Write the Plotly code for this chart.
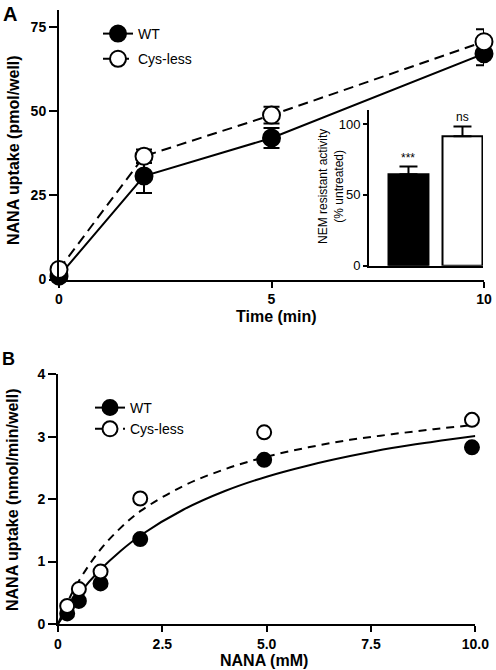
import plotly.graph_objects as go

# ---------------- Panel A data ----------------
time_min = [0, 2, 5, 10]
wt_uptake = [1.0, 30.7, 42.0, 67.0]
wt_uptake_err = [0.5, 5.0, 3.0, 3.4]
cys_uptake = [3.0, 36.6, 48.8, 70.6]
cys_uptake_err = [0.5, 2.0, 2.5, 3.7]

# Inset (NEM resistant activity)
inset_groups = ["WT", "Cys-less"]
inset_values = [64.6, 91.5]
inset_err = [5.4, 6.9]
inset_sig = ["***", "ns"]

# ---------------- Panel B data ----------------
nana_mM = [0.22, 0.5, 1.02, 1.97, 4.94, 9.92]
wt_rate = [0.17, 0.37, 0.65, 1.36, 2.63, 2.83]
cys_rate = [0.29, 0.56, 0.84, 2.01, 3.07, 3.27]

# fitted curves
fit_x = [0, 0.25, 0.5, 1, 1.5, 2, 3, 4, 5, 6, 7, 8, 9, 10]
wt_fit = [0, 0.25, 0.48, 0.86, 1.17, 1.43, 1.83, 2.13, 2.36, 2.54, 2.69, 2.82, 2.92, 3.01]
cys_fit = [0, 0.38, 0.69, 1.18, 1.54, 1.82, 2.21, 2.48, 2.68, 2.83, 2.95, 3.04, 3.12, 3.19]

W, H = 496, 670
FONT = "Liberation Sans, Arial, sans-serif"


def px(x):
    return x / W


def py(y):
    return (H - y) / H


fig = go.Figure()

# Panel A
fig.add_trace(go.Scatter(
    x=time_min, y=wt_uptake, name="WT", mode="lines+markers",
    line=dict(color="black", width=2),
    marker=dict(size=17, color="black", line=dict(color="black", width=2)),
    error_y=dict(type="data", array=wt_uptake_err, color="black", thickness=2, width=8),
    cliponaxis=False, xaxis="x", yaxis="y", legend="legend", legendgroup="wtA",
))
fig.add_trace(go.Scatter(
    x=time_min, y=cys_uptake, name="Cys-less", mode="lines+markers",
    line=dict(color="black", width=2, dash="10px,6px"),
    marker=dict(size=17, color="white", line=dict(color="black", width=2)),
    error_y=dict(type="data", array=cys_uptake_err, color="black", thickness=2, width=8),
    cliponaxis=False, xaxis="x", yaxis="y", legend="legend", legendgroup="cysA",
))

# Inset bars
fig.add_trace(go.Bar(
    x=inset_groups, y=inset_values, width=0.74,
    marker=dict(color=["black", "white"], line=dict(color="black", width=2)),
    error_y=dict(type="data", symmetric=False, array=inset_err, arrayminus=[0, 0],
                 color="black", thickness=2, width=9),
    showlegend=False, xaxis="x3", yaxis="y3",
))

# Panel B
fig.add_trace(go.Scatter(
    x=fit_x, y=wt_fit, mode="lines", line=dict(color="black", width=2, shape="spline"),
    showlegend=False, hoverinfo="skip", xaxis="x2", yaxis="y2",
))
fig.add_trace(go.Scatter(
    x=fit_x, y=cys_fit, mode="lines", line=dict(color="black", width=2, dash="8px,6px", shape="spline"),
    showlegend=False, hoverinfo="skip", xaxis="x2", yaxis="y2",
))
fig.add_trace(go.Scatter(
    x=nana_mM, y=wt_rate, name="WT", mode="markers",
    marker=dict(size=14, color="black", line=dict(color="black", width=2)),
    cliponaxis=False, xaxis="x2", yaxis="y2", legend="legend2", showlegend=False,
))
fig.add_trace(go.Scatter(
    x=nana_mM, y=cys_rate, name="Cys-less", mode="markers",
    marker=dict(size=14, color="white", line=dict(color="black", width=2)),
    cliponaxis=False, xaxis="x2", yaxis="y2", legend="legend2", showlegend=False,
))
# legend entries for panel B (line + marker style)
fig.add_trace(go.Scatter(
    x=[None], y=[None], name="WT", mode="lines+markers",
    line=dict(color="black", width=2),
    marker=dict(size=15, color="black", line=dict(color="black", width=2)),
    xaxis="x2", yaxis="y2", legend="legend2",
))
fig.add_trace(go.Scatter(
    x=[None], y=[None], name="Cys-less", mode="lines+markers",
    line=dict(color="black", width=2, dash="8px,6px"),
    marker=dict(size=15, color="white", line=dict(color="black", width=2)),
    xaxis="x2", yaxis="y2", legend="legend2",
))

axis_common = dict(
    showline=True, linecolor="black", linewidth=2, showgrid=False, zeroline=False,
    ticks="outside", tickcolor="black", tickwidth=2, automargin=False,
    tickfont=dict(family=FONT, size=14, color="black", weight="bold"),
)

fig.update_layout(
    width=W, height=H,
    margin=dict(l=0, r=0, t=0, b=0, pad=0, autoexpand=False),
    paper_bgcolor="white", plot_bgcolor="white",
    font=dict(family=FONT, color="black"),
    xaxis=dict(axis_common, domain=[px(59), px(484)], range=[0, 10],
               tickvals=[0, 5, 10], ticklen=6, anchor="y"),
    yaxis=dict(axis_common, domain=[py(279.5), py(10)], range=[0, 80],
               tickvals=[0, 25, 50, 75], ticklen=8, anchor="x"),
    xaxis2=dict(axis_common, domain=[px(58), px(475.3)], range=[0, 10],
                tickvals=[0, 2.5, 5, 7.5, 10], ticktext=["0", "2.5", "5.0", "7.5", "10.0"],
                ticklen=6, anchor="y2"),
    yaxis2=dict(axis_common, domain=[py(624), py(374.3)], range=[0, 4],
                tickvals=[0, 1, 2, 3, 4], ticklen=8, anchor="x2"),
    xaxis3=dict(showline=True, linecolor="black", linewidth=2, showgrid=False, zeroline=False,
                type="category", range=[-0.731, 1.38], autorange=False, automargin=False,
                showticklabels=False, ticks="",
                domain=[px(369), px(483)], anchor="y3"),
    yaxis3=dict(showline=True, linecolor="black", linewidth=2, showgrid=False, zeroline=False,
                ticks="outside", tickcolor="black", tickwidth=2, ticklen=4, automargin=False,
                tickfont=dict(family=FONT, size=13, color="black"),
                range=[0, 110], tickvals=[0, 50, 100],
                domain=[py(265.7), py(110)], anchor="x3"),
    legend=dict(x=px(98), y=py(18), xanchor="left", yanchor="top",
                font=dict(family=FONT, size=14, color="black"),
                bgcolor="rgba(0,0,0,0)", borderwidth=0, tracegroupgap=4),
    legend2=dict(x=px(90), y=py(392), xanchor="left", yanchor="top",
                 font=dict(family=FONT, size=14, color="black"),
                 bgcolor="rgba(0,0,0,0)", borderwidth=0, tracegroupgap=0),
    showlegend=True,
)

annotations = [
    dict(text="<b>A</b>", x=px(1), y=py(1), xanchor="left", yanchor="top", font=dict(size=20)),
    dict(text="<b>B</b>", x=px(0), y=py(347), xanchor="left", yanchor="top", font=dict(size=18)),
    dict(text="<b>Time (min)</b>", x=px(276), y=py(316), xanchor="center", yanchor="middle", font=dict(size=16)),
    dict(text="<b>NANA (mM)</b>", x=px(264), y=py(660), xanchor="center", yanchor="middle", font=dict(size=16)),
    dict(text="<b>NANA uptake (pmol/well)</b>", x=px(13), y=py(150), textangle=-90,
         xanchor="center", yanchor="middle", font=dict(size=16)),
    dict(text="<b>NANA uptake (nmol/min/well)</b>", x=px(13), y=py(500), textangle=-90,
         xanchor="center", yanchor="middle", font=dict(size=16)),
    dict(text="NEM resistant activity<br>(% untreated)", x=px(331), y=py(187), textangle=-90,
         xanchor="center", yanchor="middle", font=dict(size=12)),
]
for a in annotations:
    a.update(xref="paper", yref="paper", showarrow=False)
    a["font"] = dict(family=FONT, color="black", **a["font"])
    fig.add_annotation(**a)

for g, v, e, s in zip(inset_groups, inset_values, inset_err, inset_sig):
    fig.add_annotation(x=g, y=v + e, xref="x3", yref="y3", text=s, showarrow=False,
                       yanchor="bottom", yshift=0, font=dict(family=FONT, size=12, color="black"))

fig.write_html(
    "out.html",
    config={"displayModeBar": False},
    post_script=(
        "document.documentElement.style.margin='0';"
        "document.documentElement.style.padding='0';"
        "document.documentElement.style.overflow='hidden';"
        "document.body.style.margin='0';"
        "document.body.style.padding='0';"
        "document.body.style.overflow='hidden';"
    ),
)
